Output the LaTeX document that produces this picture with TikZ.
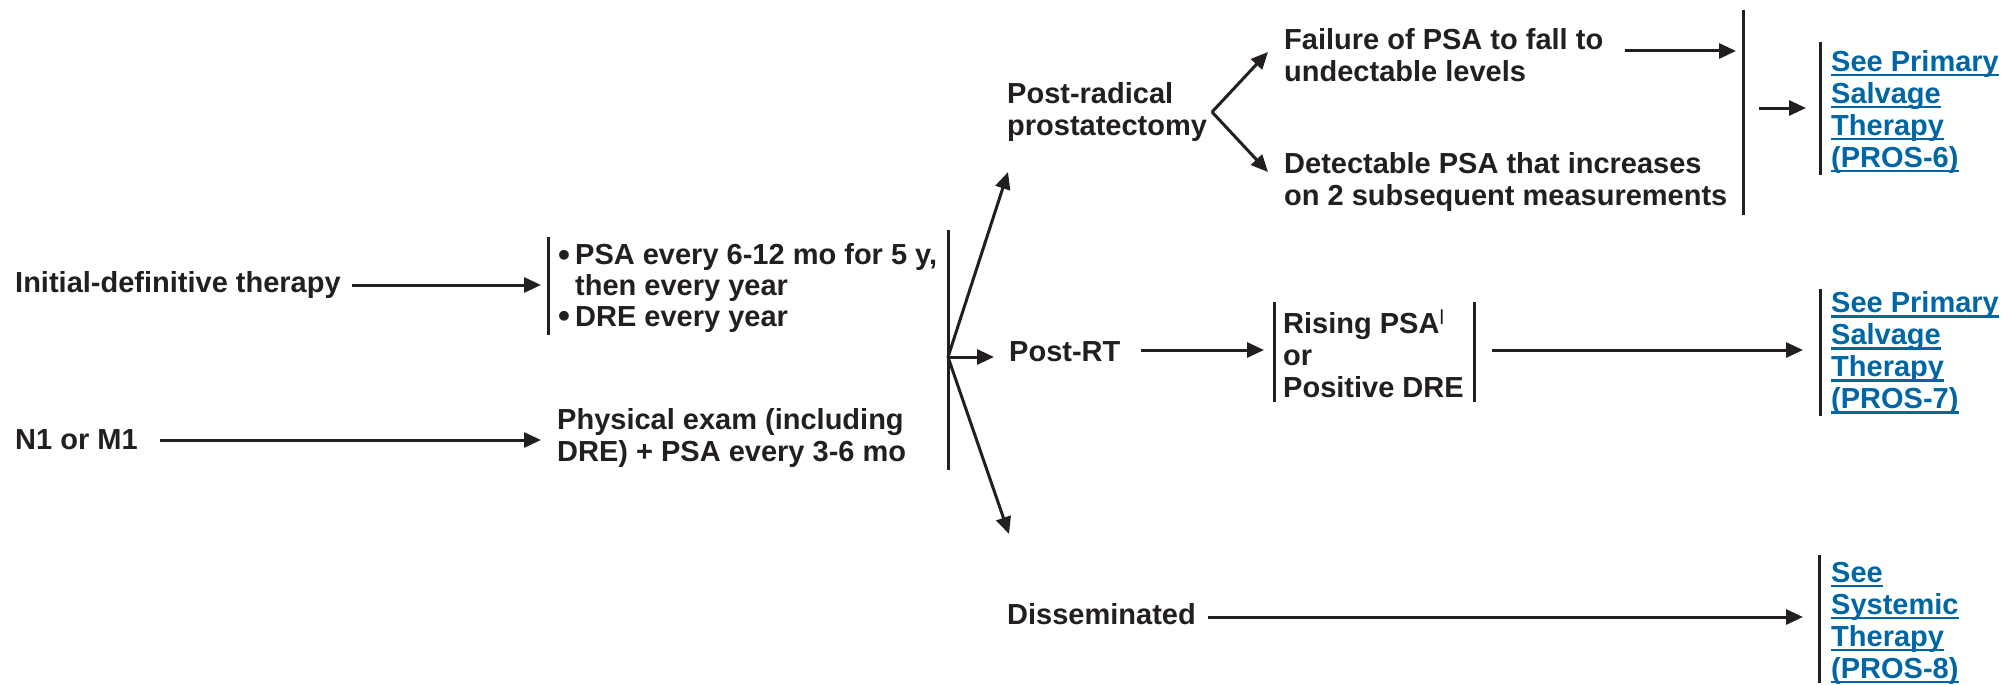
\documentclass[tikz,border=0pt]{standalone}
\usepackage{fontspec}
\setmainfont{Liberation Sans}
\usetikzlibrary{arrows.meta}
\definecolor{ink}{RGB}{35,31,32}
\definecolor{linkblue}{RGB}{0,102,164}
\newcommand\myul[1]{\setbox0\hbox{#1}\rlap{\rule[-5pt]{\wd0}{2.5pt}}\box0}
\newcommand\mybul{\makebox[19pt][l]{\hspace*{2pt}\raisebox{-1.5pt}{\fontsize{34}{31}\selectfont\textbullet}}}
\begin{document}
\begin{tikzpicture}[x=1pt,y=-1pt,
  txt/.style={anchor=west, inner sep=0pt, align=left, font=\fontsize{29}{32}\selectfont\bfseries, text=ink},
  lnk/.style={txt, text=linkblue},
  conn/.style={draw=ink, line width=3pt, -{Triangle[length=17pt,width=15pt]}},
  brk/.style={draw=ink, line width=3pt}]
\useasboundingbox (0,0) rectangle (2003,685);

% ---- left column
\node[txt] (init) at (15,285) {Initial-definitive therapy};
\node[txt] (n1) at (15,440) {N1 or M1};

\coordinate (b1t) at (548,237); \coordinate (b1b) at (548,335);
\draw[brk] (b1t) -- (b1b);
\node[txt, font=\fontsize{29}{31}\selectfont\bfseries] (fu) at (556,288) {\mybul PSA every 6-12 mo for 5 y,\\\hspace*{19pt}then every year\\\mybul DRE every year};
\node[txt] (pe) at (557,438) {Physical exam (including\\DRE) + PSA every 3-6 mo};

\coordinate (a1s) at (352,285); \coordinate (a1e) at (541,285);
\draw[conn] (a1s) -- (a1e);
\coordinate (a2s) at (160,440); \coordinate (a2e) at (541,440);
\draw[conn] (a2s) -- (a2e);

% ---- middle bracket and branches
\coordinate (b2t) at (948,230); \coordinate (b2b) at (948,470);
\draw[brk] (b2t) -- (b2b);
\coordinate (hub) at (948,357);
\node[txt] (prp) at (1007,112) {Post-radical\\prostatectomy};
\node[txt] (prt) at (1009,352) {Post-RT};
\node[txt] (dis) at (1007,614) {Disseminated};
\coordinate (h1) at (1008,172); \coordinate (h2) at (994,357); \coordinate (h3) at (1009,534);
\draw[conn] (hub) -- (h1);
\draw[conn] (hub) -- (h2);
\draw[conn] (hub) -- (h3);

% ---- post-radical fork
\coordinate (fork) at (1212,112);
\coordinate (f1) at (1268,52); \coordinate (f2) at (1268,172);
\draw[conn] (fork) -- (f1);
\draw[conn] (fork) -- (f2);
\node[txt] (fail) at (1284,55) {Failure of PSA to fall to\\undectable levels};
\node[txt] (det) at (1284,182) {Detectable PSA that increases\\on 2 subsequent measurements};
\coordinate (a3s) at (1625,51); \coordinate (a3e) at (1736,51);
\draw[conn] (a3s) -- (a3e);
\coordinate (b3t) at (1743,10); \coordinate (b3b) at (1743,215);
\draw[brk] (b3t) -- (b3b);
\coordinate (a4s) at (1759,108); \coordinate (a4e) at (1806,108);
\draw[conn] (a4s) -- (a4e);
\coordinate (bAt) at (1820,42); \coordinate (bAb) at (1820,175);
\draw[brk] (bAt) -- (bAb);
\node[lnk] (lA) at (1831,112) {\myul{See Primary}\\\myul{Salvage}\\\myul{Therapy}\\\myul{(PROS-6)}};

% ---- post-RT
\coordinate (a5s) at (1141,350); \coordinate (a5e) at (1264,350);
\draw[conn] (a5s) -- (a5e);
\coordinate (rLt) at (1274,302); \coordinate (rLb) at (1274,402);
\coordinate (rRt) at (1474,302); \coordinate (rRb) at (1474,402);
\draw[brk] (rLt) -- (rLb);
\draw[brk] (rRt) -- (rRb);
\node[txt] (ris) at (1283,354) {Rising PSA\textsuperscript{\mdseries l}\\or\\Positive DRE};
\coordinate (a6s) at (1492,350); \coordinate (a6e) at (1803,350);
\draw[conn] (a6s) -- (a6e);
\coordinate (bBt) at (1820,289); \coordinate (bBb) at (1820,416);
\draw[brk] (bBt) -- (bBb);
\node[lnk] (lB) at (1831,353) {\myul{See Primary}\\\myul{Salvage}\\\myul{Therapy}\\\myul{(PROS-7)}};

% ---- disseminated
\coordinate (a7s) at (1208,617); \coordinate (a7e) at (1803,617);
\draw[conn] (a7s) -- (a7e);
\coordinate (bCt) at (1819,555); \coordinate (bCb) at (1819,683);
\draw[brk] (bCt) -- (bCb);
\node[lnk] (lC) at (1831,623) {\myul{See}\\\myul{Systemic}\\\myul{Therapy}\\\myul{(PROS-8)}};
\end{tikzpicture}
\end{document}
